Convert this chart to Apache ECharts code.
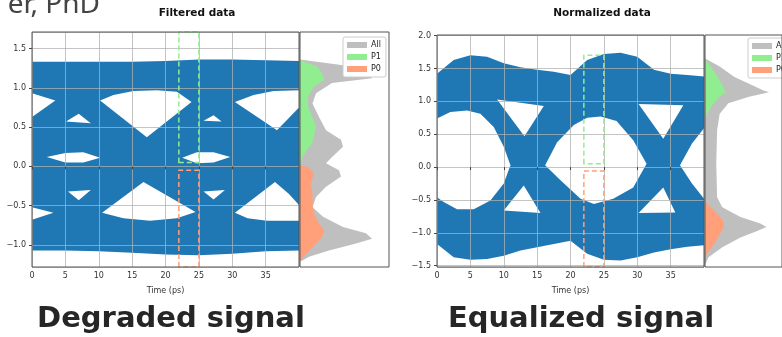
<!DOCTYPE html>
<html><head><meta charset="utf-8">
<script src="https://cdn.jsdelivr.net/npm/echarts@6.0.0/dist/echarts.min.js"></script>
<style>html,body{margin:0;padding:0;background:#fff}#c{width:782px;height:337px}</style>
</head><body><div id="c"></div>
<script>
// ---------- Filtered data (degraded signal) ----------
const filtEnvTime  = [0, 5, 10, 15, 20, 25, 30, 35, 40];
const filtEnvUpper = [1.33, 1.33, 1.33, 1.33, 1.34, 1.36, 1.36, 1.35, 1.34];
const filtEnvLower = [-1.07, -1.07, -1.08, -1.10, -1.12, -1.13, -1.11, -1.08, -1.07];
const filtEyeTopLeft  = [[0,0.93],[3.5,0.84],[0,0.63]];
const filtEyeTopMid   = [[10.2,0.84],[12.2,0.91],[15.2,0.96],[18.7,0.97],[21.7,0.95],[23.9,0.82],[17.2,0.37]];
const filtEyeTopRight = [[30.4,0.82],[33.2,0.91],[36.2,0.96],[40,0.97],[40,0.75],[36.7,0.46]];
const filtEyeSmallUpL = [[5.1,0.57],[7.0,0.67],[8.8,0.55]];
const filtEyeSmallUpR = [[25.7,0.58],[27.2,0.65],[28.4,0.57]];
const filtEyeMidL     = [[2.2,0.12],[5.0,0.17],[7.7,0.18],[10.2,0.11],[7.7,0.05],[5.0,0.05]];
const filtEyeMidR     = [[22.5,0.11],[24.7,0.18],[27.2,0.18],[29.7,0.12],[27.2,0.05],[24.7,0.04]];
const filtEyeBotLeft  = [[0,-0.52],[3.2,-0.59],[0,-0.68]];
const filtEyeBotMid   = [[10.5,-0.59],[16.7,-0.20],[24.5,-0.58],[21.7,-0.66],[17.7,-0.69],[13.7,-0.66]];
const filtEyeBotRight = [[30.4,-0.59],[36.4,-0.20],[38.5,-0.35],[40,-0.49],[40,-0.69],[35.2,-0.69],[32.3,-0.66]];
const filtEyeSmallLoL = [[5.4,-0.32],[8.8,-0.30],[7.0,-0.43]];
const filtEyeSmallLoR = [[25.7,-0.32],[28.9,-0.30],[27.2,-0.42]];
const filtWindowTime  = [22, 25];
const filtP1Range     = [0.05, 1.71];
const filtP0Range     = [-1.28, -0.05];
const filtHistLevel   = [1.36,1.31,1.27,1.19,1.12,1.06,0.93,0.80,0.63,0.46,0.34,0.25,0.12,0.04,-0.05,-0.13,-0.26,-0.39,-0.52,-0.64,-0.77,-0.85,-0.92,-0.98,-1.07,-1.15,-1.20];
const filtHistAll     = [0,30,52,69,72,32,16,12.5,19,26,41,43,32,26,39,41,26,16,12.5,23,43,66,72,56,29,9,2];
const filtHistP1Level = [1.36,1.34,1.27,1.19,1.10,1.02,0.89,0.76,0.63,0.51,0.38,0.29,0.21,0.12,0.02];
const filtHistP1      = [0,2,17,22,24,14,8,8,12.5,16,14,12,7,2.5,0];
const filtHistP0Level = [0.01,-0.01,-0.09,-0.22,-0.35,-0.47,-0.60,-0.73,-0.81,-0.90,-1.03,-1.11,-1.20];
const filtHistP0      = [0,9,14,11,12.5,12.5,14,19,24,22,12.5,6,0.6];
const filtYRange      = [-1.28, 1.71];

// ---------- Normalized data (equalized signal) ----------
const normEnvTime  = [0,2.5,5,7.5,10,12.5,15,17.5,20,22.5,25,27.5,30,32.5,35,37.5,40];
const normEnvUpper = [1.42,1.63,1.70,1.68,1.58,1.52,1.48,1.45,1.40,1.63,1.72,1.74,1.68,1.48,1.42,1.40,1.38];
const normEnvLower = [-1.17,-1.37,-1.41,-1.40,-1.35,-1.27,-1.22,-1.17,-1.12,-1.32,-1.41,-1.42,-1.37,-1.30,-1.25,-1.21,-1.19];
const normEyeLeft  = [[0,0.74],[2.0,0.84],[4.5,0.86],[6.5,0.81],[8.5,0.61],[10.0,0.31],[11.0,0.03],[10.0,-0.25],[8.0,-0.51],[5.5,-0.64],[3.0,-0.64],[1.0,-0.53],[0,-0.46]];
const normEyeMid   = [[16.2,0.03],[18.0,0.38],[20.5,0.64],[22.5,0.75],[24.5,0.77],[26.9,0.70],[29.4,0.41],[31.4,0.05],[29.4,-0.31],[26.4,-0.48],[23.5,-0.56],[21.5,-0.48],[18.5,-0.20]];
const normEyeRight = [[36.4,0.03],[38.2,0.36],[40,0.59],[40,-0.48],[38.2,-0.25]];
const normEyeSmallUpL = [[9.0,1.03],[16.0,0.93],[13.1,0.47]];
const normEyeSmallUpR = [[30.2,0.96],[36.9,0.94],[33.9,0.43]];
const normEyeSmallLoL = [[13.0,-0.28],[10.0,-0.66],[15.5,-0.70]];
const normEyeSmallLoR = [[33.9,-0.31],[30.2,-0.70],[35.7,-0.69]];
const normWindowTime  = [22, 25];
const normP1Range     = [0.05, 1.70];
const normP0Range     = [-1.52, -0.06];
const normHistLevel   = [1.65,1.53,1.37,1.27,1.17,1.14,1.07,0.97,0.81,0.56,0.05,-0.46,-0.61,-0.76,-0.86,-0.91,-0.97,-1.07,-1.22,-1.37,-1.47];
const normHistAll     = [0.7,17,34,51,67,74,51,27,17,14,13,14,20,41,64,71,61,41,20,4,0.7];
const normHistP1Level = [1.65,1.47,1.32,1.14,1.07,0.92,0.76];
const normHistP1      = [0,10,17,24,17,7,0.7];
const normHistP0Level = [-0.53,-0.66,-0.81,-0.91,-1.02,-1.17,-1.32,-1.42];
const normHistP0      = [0.7,10.7,20.7,22,17,10.7,2,0];
const normYRange      = [-1.52, 2.01];

const histMax = 89;
const legendNames = ['All', 'P1', 'P0'];

// ---------- helpers ----------
const BLUE = '#1f77b4', GRAY = '#bfbfbf', GREEN = '#90ee90', SALMON = '#ffa07a';
const FONT = 'DejaVu Sans';

function bandPoly(t, up, lo) {
  const pts = t.map((x, i) => [x, up[i]]);
  for (let i = t.length - 1; i >= 0; i--) pts.push([t[i], lo[i]]);
  return pts;
}
function histPoly(levels, counts) {
  const pts = [[0, levels[0]]];
  levels.forEach((l, i) => pts.push([counts[i], l]));
  pts.push([0, levels[levels.length - 1]]);
  return pts;
}
function polySeries(name, idx, polys, color, z) {
  return {
    type: 'custom', name: name, xAxisIndex: idx, yAxisIndex: idx, z: z, clip: true, silent: true,
    itemStyle: { color: color },
    data: polys.map((p, i) => [0, 0]),
    renderItem: function (params, api) {
      const pts = polys[params.dataIndex].map(p => api.coord(p));
      return { type: 'polygon', shape: { points: pts }, style: { fill: color, stroke: null } };
    }
  };
}
function windowSeries(idx, tRange, yRange, color) {
  return {
    type: 'custom', xAxisIndex: idx, yAxisIndex: idx, z: 6, clip: false, silent: true,
    data: [[0, 0]],
    renderItem: function (params, api) {
      const pts = [[tRange[0], yRange[0]], [tRange[0], yRange[1]], [tRange[1], yRange[1]], [tRange[1], yRange[0]]].map(p => api.coord(p));
      return { type: 'polygon', shape: { points: pts }, style: { fill: 'none', stroke: color, lineWidth: 1.5, lineDash: [5, 3] } };
    }
  };
}
function frameSeries(idx) {
  return {
    type: 'custom', xAxisIndex: idx, yAxisIndex: idx, z: 20, clip: false, silent: true,
    data: [[0, 0]],
    renderItem: function (params) {
      const c = params.coordSys;
      return { type: 'rect', shape: { x: c.x, y: c.y, width: c.width, height: c.height }, style: { fill: 'none', stroke: '#555', lineWidth: 1 } };
    }
  };
}
const fmtY = v => (v < 0 ? '\u2212' : '') + Math.abs(v).toFixed(1);

function eyeX(gi) {
  return {
    type: 'value', gridIndex: gi, min: 0, max: 40, interval: 5, z: 4,
    name: 'Time (ps)', nameLocation: 'middle', nameGap: 20,
    nameTextStyle: { fontFamily: FONT, fontSize: 8, color: '#333' },
    axisLine: { show: false },
    axisTick: { show: true, length: 3, lineStyle: { color: '#444' } },
    axisLabel: { fontFamily: FONT, fontSize: 8, color: '#333', margin: 5, showMaxLabel: false },
    splitLine: { show: true, lineStyle: { color: 'rgba(176,176,176,0.75)', width: 1 } }
  };
}
function eyeY(gi, range, split) {
  return {
    type: 'value', gridIndex: gi, min: range[0], max: range[1], splitNumber: split, z: 4,
    axisLine: { show: false },
    axisTick: { show: true, length: 3, lineStyle: { color: '#444' } },
    axisLabel: { fontFamily: FONT, fontSize: 8, color: '#333', margin: 6, showMinLabel: false, showMaxLabel: false, formatter: fmtY },
    splitLine: { show: true, lineStyle: { color: 'rgba(176,176,176,0.75)', width: 1 } }
  };
}
function histX(gi) {
  return { type: 'value', gridIndex: gi, min: 0, max: histMax, show: false, splitLine: { show: false } };
}
function histY(gi, range) {
  return { type: 'value', gridIndex: gi, min: range[0], max: range[1], show: false, splitLine: { show: false } };
}
function legendAt(left, top) {
  return {
    data: legendNames, orient: 'vertical', left: left, top: top, icon: 'rect',
    itemWidth: 20, itemHeight: 6, itemGap: 4, padding: [4, 5, 4, 4],
    borderColor: '#ccc', borderWidth: 1, borderRadius: 2, backgroundColor: '#fff',
    textStyle: { fontFamily: FONT, fontSize: 8, color: '#222', padding: [0, 0, 0, -1] },
    selectedMode: false
  };
}

const filtHoles = [filtEyeTopLeft, filtEyeTopMid, filtEyeTopRight, filtEyeSmallUpL, filtEyeSmallUpR, filtEyeMidL, filtEyeMidR, filtEyeBotLeft, filtEyeBotMid, filtEyeBotRight, filtEyeSmallLoL, filtEyeSmallLoR];
const normHoles = [normEyeLeft, normEyeMid, normEyeRight, normEyeSmallUpL, normEyeSmallUpR, normEyeSmallLoL, normEyeSmallLoR];

const option = {
  animation: false,
  backgroundColor: '#fff',
  grid: [
    { left: 32, top: 32, width: 267, height: 235 },
    { left: 300, top: 32, width: 89, height: 235 },
    { left: 437, top: 35, width: 267, height: 232 },
    { left: 705, top: 35, width: 89, height: 232 }
  ],
  xAxis: [eyeX(0), histX(1), eyeX(2), histX(3)],
  yAxis: [eyeY(0, filtYRange, 6), histY(1, filtYRange), eyeY(2, normYRange, 7), histY(3, normYRange)],
  legend: [legendAt(343, 37), legendAt(748, 38)],
  series: [
    polySeries('band1', 0, [bandPoly(filtEnvTime, filtEnvUpper, filtEnvLower)], BLUE, 2),
    polySeries('holes1', 0, filtHoles, '#fff', 3),
    windowSeries(0, filtWindowTime, filtP1Range, GREEN),
    windowSeries(0, filtWindowTime, filtP0Range, SALMON),
    polySeries('All', 1, [histPoly(filtHistLevel, filtHistAll)], GRAY, 2),
    polySeries('P1', 1, [histPoly(filtHistP1Level, filtHistP1)], GREEN, 3),
    polySeries('P0', 1, [histPoly(filtHistP0Level, filtHistP0)], SALMON, 3),
    polySeries('band2', 2, [bandPoly(normEnvTime, normEnvUpper, normEnvLower)], BLUE, 2),
    polySeries('holes2', 2, normHoles, '#fff', 3),
    windowSeries(2, normWindowTime, normP1Range, GREEN),
    windowSeries(2, normWindowTime, normP0Range, SALMON),
    polySeries('All', 3, [histPoly(normHistLevel, normHistAll)], GRAY, 2),
    polySeries('P1', 3, [histPoly(normHistP1Level, normHistP1)], GREEN, 3),
    polySeries('P0', 3, [histPoly(normHistP0Level, normHistP0)], SALMON, 3),
    frameSeries(0), frameSeries(1), frameSeries(2), frameSeries(3)
  ],
  graphic: [
    { type: 'text', x: 100, y: 5, style: { text: 'er, PhD', font: '28px "Noto Sans"', fill: '#444', align: 'right', verticalAlign: 'middle', textAlign: 'right', textVerticalAlign: 'middle' } },
    { type: 'text', x: 197, y: 13, style: { text: 'Filtered data', font: 'bold 10.5px "DejaVu Sans"', fill: '#111', align: 'center', verticalAlign: 'middle', textAlign: 'center', textVerticalAlign: 'middle' } },
    { type: 'text', x: 602, y: 13, style: { text: 'Normalized data', font: 'bold 10.5px "DejaVu Sans"', fill: '#111', align: 'center', verticalAlign: 'middle', textAlign: 'center', textVerticalAlign: 'middle' } },
    { type: 'text', x: 171, y: 319, style: { text: 'Degraded signal', font: 'bold 29px "DejaVu Sans"', fill: '#262626', align: 'center', verticalAlign: 'middle', textAlign: 'center', textVerticalAlign: 'middle' } },
    { type: 'text', x: 581, y: 319, style: { text: 'Equalized signal', font: 'bold 29px "DejaVu Sans"', fill: '#262626', align: 'center', verticalAlign: 'middle', textAlign: 'center', textVerticalAlign: 'middle' } }
  ]
};

const chart = echarts.init(document.getElementById('c'), null, { renderer: 'canvas' });
chart.setOption(option);
</script></body></html>
